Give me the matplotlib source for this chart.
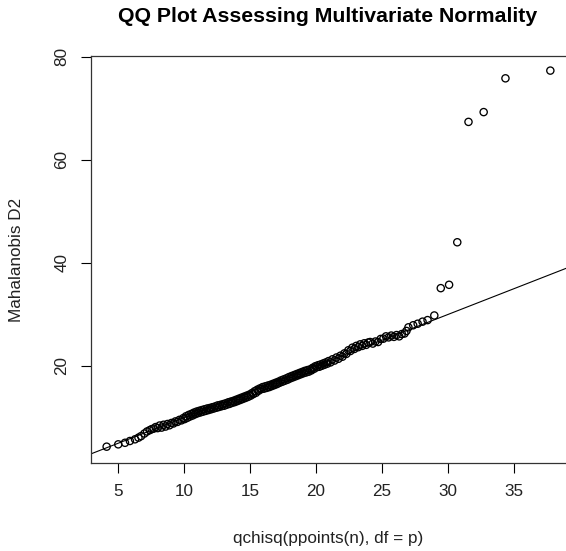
import matplotlib
matplotlib.use("Agg")
import matplotlib.pyplot as plt

plt.rcParams['font.family'] = ['Liberation Sans', 'DejaVu Sans']

title = "QQ Plot Assessing Multivariate Normality"
x_label = "qchisq(ppoints(n), df = p)"
y_label = "Mahalanobis D2"
x_ticks = [5, 10, 15, 20, 25, 30, 35]
y_ticks = [20, 40, 60, 80]

# theoretical chi-square quantiles
chisq_quantiles = [
    4.14, 5.02, 5.53, 5.9, 6.29, 6.55, 6.75, 7.0, 7.2, 7.4, 7.55, 7.7,
    7.85, 8.0, 8.15, 8.3, 8.45, 8.6, 8.75, 8.9, 9.05, 9.2, 9.35, 9.5, 9.65, 9.8, 9.95,
    10.05, 10.15, 10.25, 10.35, 10.45, 10.55, 10.65, 10.75, 10.85, 10.95, 11.05, 11.15,
    11.25, 11.35, 11.45, 11.55, 11.65, 11.75, 11.85, 11.95, 12.05, 12.15, 12.25, 12.35, 12.45,
    12.55, 12.65, 12.75, 12.85, 12.95, 13.05, 13.15, 13.25, 13.35, 13.45, 13.55, 13.65,
    13.75, 13.85, 13.95, 14.05, 14.15, 14.25, 14.35, 14.45, 14.55, 14.65, 14.75, 14.85,
    14.95, 15.05, 15.15, 15.25, 15.35, 15.45, 15.55, 15.65, 15.75,
    15.85, 15.95, 16.05, 16.15, 16.25, 16.35, 16.45, 16.55, 16.65, 16.75, 16.85, 16.95,
    17.05, 17.15, 17.25, 17.35, 17.45, 17.55, 17.65, 17.75, 17.85, 17.95, 18.05, 18.15,
    18.25, 18.35, 18.45, 18.55, 18.65, 18.75, 18.85, 18.95, 19.05, 19.15, 19.25, 19.35,
    19.45, 19.55, 19.65, 19.75, 19.85, 19.95,
    20.05, 20.15, 20.25, 20.35, 20.45, 20.55, 20.65, 20.75, 20.85, 20.95, 21.1, 21.25,
    21.4, 21.55, 21.7, 21.85, 22.0, 22.15, 22.3, 22.45, 22.6, 22.75, 22.9, 23.05, 23.2,
    23.35, 23.5, 23.65, 23.8, 23.95,
    24.1, 24.3, 24.5, 24.7, 24.9, 25.1, 25.3, 25.5, 25.7, 25.9, 26.1, 26.3, 26.5, 26.7,
    26.85, 27.0,
    27.36, 27.7, 28.07, 28.45, 28.96, 29.45, 30.08, 30.7, 31.55, 32.7, 34.35, 37.75,
]

# sorted squared Mahalanobis distances
mahalanobis_d2 = [
    4.35, 4.8, 5.1, 5.45, 5.78, 6.1, 6.4, 6.9, 7.3, 7.55, 7.75, 7.85,
    8.15, 7.95, 8.45, 8.05, 8.6, 8.25, 8.75, 8.5, 8.95, 8.85, 9.25, 9.15, 9.55, 9.45, 9.9,
    9.7, 10.25, 9.95, 10.5, 10.2, 10.7, 10.4, 10.95, 10.65, 11.15, 10.85, 11.3,
    11.0, 11.45, 11.15, 11.6, 11.3, 11.75, 11.45, 11.85, 11.6, 12.0, 11.75, 12.15, 11.9,
    12.35, 12.05, 12.45, 12.2, 12.6, 12.3, 12.75, 12.5, 12.95, 12.65, 13.1, 12.85,
    13.25, 13.0, 13.45, 13.2, 13.65, 13.4, 13.85, 13.6, 14.05, 13.8, 14.25, 14.0,
    14.45, 14.25, 14.75, 14.55, 15.1, 14.8, 15.4, 15.2, 15.65,
    15.5, 15.9, 15.6, 16.05, 15.75, 16.2, 15.9, 16.35, 16.1, 16.55, 16.3, 16.75,
    16.5, 16.95, 16.75, 17.2, 16.95, 17.4, 17.15, 17.6, 17.35, 17.85, 17.6, 18.05,
    17.8, 18.25, 18.0, 18.45, 18.2, 18.65, 18.4, 18.85, 18.6, 19.05, 18.75, 19.2,
    18.9, 19.35, 19.15, 19.65, 19.45, 19.95,
    19.75, 20.15, 19.85, 20.3, 20.05, 20.5, 20.25, 20.7, 20.45, 20.95, 20.7, 21.3,
    21.05, 21.65, 21.4, 22.0, 21.8, 22.45, 22.35, 23.05, 22.9, 23.55, 23.3, 23.9, 23.65,
    24.2, 23.9, 24.4, 24.1, 24.55,
    24.65, 24.35, 24.75, 24.65, 25.25, 25.3, 25.75, 25.55, 25.9, 25.65, 26.0, 25.75, 26.2, 26.3,
    26.8, 27.5,
    27.9, 28.2, 28.6, 28.9, 29.8, 35.1, 35.75, 44.0, 67.35, 69.25, 75.8, 77.3,
]

W, H = 566, 551
fig = plt.figure(figsize=(W / 100, H / 100), dpi=100)
left_px, right_px, top_px, bottom_px = 90.7, 567.5, 55.7, 462.7
ax = fig.add_axes([left_px / W, 1 - bottom_px / H,
                   (right_px - left_px) / W, (bottom_px - top_px) / H])

ax.scatter(chisq_quantiles, mahalanobis_d2, s=27, facecolors='none',
           edgecolors='black', linewidths=0.95, zorder=3)
ax.axline((0, 0), slope=1, color='black', lw=0.8, zorder=2)

ax.set_xlim(2.932, 39.05)
ax.set_ylim(1.24, 80.19)
ax.set_xticks(x_ticks)
ax.set_yticks(y_ticks)
ax.set_xticklabels([str(t) for t in x_ticks], fontsize=12.3)
ax.set_yticklabels([str(t) for t in y_ticks], fontsize=12.3, rotation=90, va='center')
ax.tick_params(axis='both', direction='out', length=7, width=0.8, color='black',
               labelcolor='#222222')
ax.tick_params(axis='x', pad=8.5)
ax.tick_params(axis='y', pad=8.5)
for s in ax.spines.values():
    s.set_linewidth(0.9)
    s.set_color('#333333')
ax.spines['right'].set_visible(False)

fig.text(328 / W, 1 - 16 / H, title, ha='center', va='center',
         fontsize=15.3, fontweight='bold', color='black')
fig.text(328 / W, 1 - 538 / H, x_label, ha='center', va='center',
         fontsize=12.3, color='#222222')
fig.text(17 / W, 1 - 260 / H, y_label, ha='center', va='center', rotation=90,
         fontsize=12.3, color='#222222')

fig.savefig('out.png', dpi=100)
